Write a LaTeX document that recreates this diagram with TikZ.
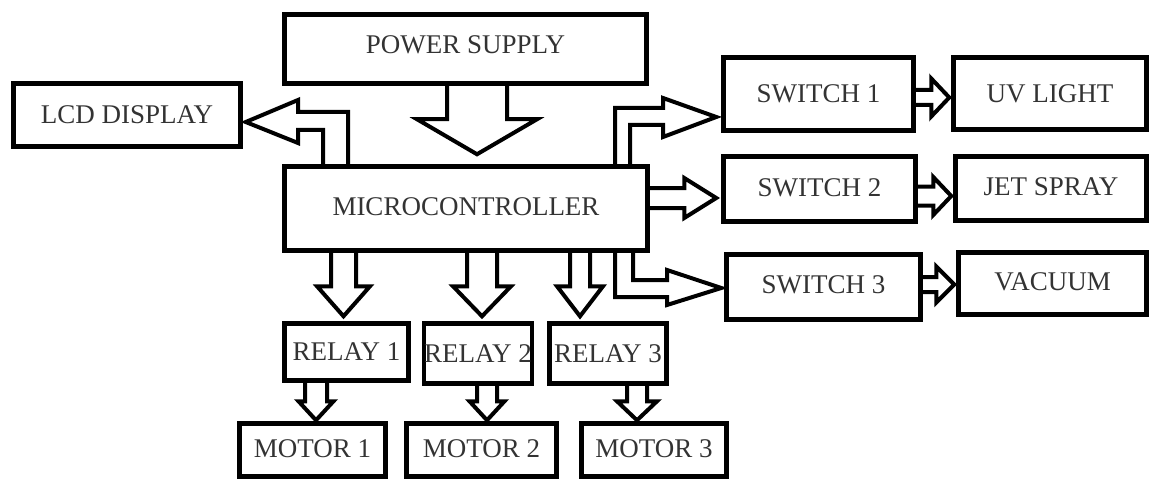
\documentclass[tikz,border=0pt]{standalone}
\usepackage{fontspec}
\setmainfont{Liberation Serif}
\usetikzlibrary{calc}
\tikzset{
  box/.style={draw=black, line width=4.5pt, rectangle, inner sep=0pt, text=black!80,
    font=\fontsize{27}{29}\selectfont},
  blk/.style={draw=black, line width=4pt, line join=miter}
}
% #1 src, #2 dst, #3 x, #4 shaft half, #5 head half, #6 head length, #7 gap
\newcommand\blockdown[7]{%
  \draw[blk] let \p1=(#1.south), \p2=(#2.north) in
    (#3pt-#4pt,\y1) -- (#3pt-#4pt,\y2+#7pt+#6pt) -- (#3pt-#5pt,\y2+#7pt+#6pt)
    -- (#3pt,\y2+#7pt) -- (#3pt+#5pt,\y2+#7pt+#6pt) -- (#3pt+#4pt,\y2+#7pt+#6pt)
    -- (#3pt+#4pt,\y1);}
% #1 src, #2 dst, #3 y, #4 shaft half, #5 head half, #6 head length, #7 gap
\newcommand\blockright[7]{%
  \draw[blk] let \p1=(#1.east), \p2=(#2.west) in
    (\x1,#3pt+#4pt) -- (\x2-#7pt-#6pt,#3pt+#4pt) -- (\x2-#7pt-#6pt,#3pt+#5pt)
    -- (\x2-#7pt,#3pt) -- (\x2-#7pt-#6pt,#3pt-#5pt) -- (\x2-#7pt-#6pt,#3pt-#4pt)
    -- (\x1,#3pt-#4pt);}
\begin{document}
\begin{tikzpicture}[x=1pt,y=1pt]
\useasboundingbox (0,0) rectangle (1150,480);
% boxes
\node[box, minimum width=362, minimum height=69] (ps) at (465.5,431) {\raisebox{8pt}{POWER SUPPLY}};
\node[box, minimum width=227, minimum height=63] (lcd) at (127,365) {LCD DISPLAY};
\node[box, minimum width=363, minimum height=84] (micro) at (466,271.5) {\raisebox{4pt}{MICROCONTROLLER}};
\node[box, minimum width=190, minimum height=73] (sw1) at (818.5,386) {SWITCH 1};
\node[box, minimum width=193, minimum height=72] (uv) at (1050,386.5) {UV LIGHT};
\node[box, minimum width=192, minimum height=65] (sw2) at (819.5,291) {\raisebox{3pt}{SWITCH 2}};
\node[box, minimum width=191, minimum height=64] (jet) at (1051,291.5) {\raisebox{4pt}{JET SPRAY}};
\node[box, minimum width=194, minimum height=65] (sw3) at (823.5,193) {\raisebox{4pt}{SWITCH 3}};
\node[box, minimum width=188, minimum height=62] (vac) at (1052.5,196.5) {\raisebox{3pt}{VACUUM}};
\node[box, minimum width=124, minimum height=57] (r1) at (346.5,128) {\raisebox{-3pt}{RELAY 1}};
\node[box, minimum width=107, minimum height=60] (r2) at (478,126.5) {\raisebox{-1pt}{RELAY 2}};
\node[box, minimum width=117, minimum height=60] (r3) at (608,126.5) {\raisebox{-1pt}{RELAY 3}};
\node[box, minimum width=146, minimum height=53] (m1) at (312.5,30) {\raisebox{2pt}{MOTOR 1}};
\node[box, minimum width=150, minimum height=53] (m2) at (481.5,30) {\raisebox{2pt}{MOTOR 2}};
\node[box, minimum width=145, minimum height=53] (m3) at (654,30) {\raisebox{2pt}{MOTOR 3}};
% power supply -> microcontroller
\blockdown{ps}{micro}{477}{30}{60}{35}{10}
% microcontroller -> LCD (elbow)
\draw[blk] let \p1=(micro.north), \p2=(lcd.east) in
  (348pt,\y1) -- (348pt,368pt) -- (298pt,368pt) -- (298pt,380pt) -- (\x2+3pt,358pt)
  -- (298pt,337pt) -- (298pt,350pt) -- (323pt,350pt) -- (323pt,\y1);
% microcontroller -> switch 1 (elbow)
\draw[blk] let \p1=(micro.north), \p2=(sw1.west) in
  (615pt,\y1) -- (615pt,372pt) -- (663pt,372pt) -- (663pt,382pt) -- (\x2-5pt,363pt)
  -- (663pt,343pt) -- (663pt,355pt) -- (630pt,355pt) -- (630pt,\y1);
% microcontroller -> switch 2
\blockright{micro}{sw2}{282}{10}{20}{32}{5}
% microcontroller -> switch 3 (elbow)
\draw[blk] let \p1=(micro.south), \p2=(sw3.west) in
  (615pt,\y1) -- (615pt,183pt) -- (667pt,183pt) -- (667pt,175pt) -- (\x2-3pt,192pt)
  -- (667pt,210pt) -- (667pt,200pt) -- (633pt,200pt) -- (633pt,\y1);
% microcontroller -> relays
\blockdown{micro}{r1}{343.5}{12.5}{26.5}{30}{5}
\blockdown{micro}{r2}{482}{15}{29}{30}{5}
\blockdown{micro}{r3}{580}{10}{23}{30}{5}
% relays -> motors
\blockdown{r1}{m1}{316}{11}{17.5}{19}{1}
\blockdown{r2}{m2}{487}{10}{17.5}{19}{1}
\blockdown{r3}{m3}{637}{10}{20}{19}{1}
% switches -> loads
\blockright{sw1}{uv}{382.5}{7.5}{19}{18}{2}
\blockright{sw2}{jet}{284}{9.5}{19}{18}{2}
\blockright{sw3}{vac}{195.5}{7.5}{18}{18}{2}
\end{tikzpicture}
\end{document}
